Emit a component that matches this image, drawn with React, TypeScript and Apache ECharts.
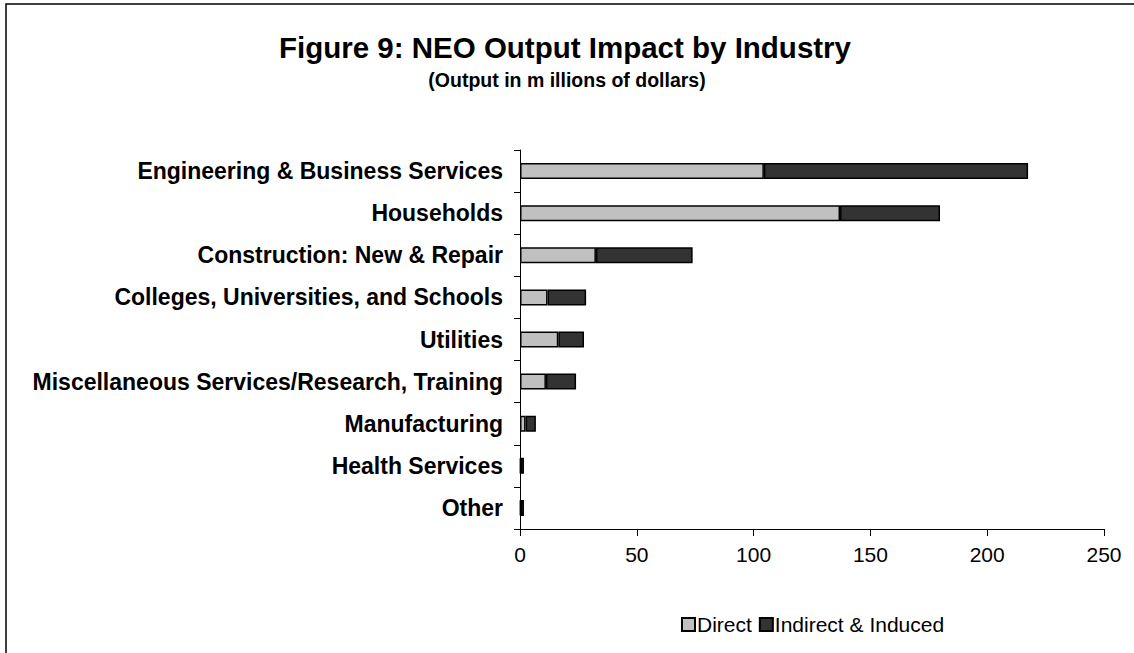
import React, { useEffect, useRef } from "react";
import * as echarts from "echarts";

const categories = [
  "Engineering & Business Services",
  "Households",
  "Construction: New & Repair",
  "Colleges, Universities, and Schools",
  "Utilities",
  "Miscellaneous Services/Research, Training",
  "Manufacturing",
  "Health Services",
  "Other",
];
const directValues = [104.4, 137, 32.5, 11.8, 16.4, 11.1, 2.4, 0.3, 0.3];
const indirectValues = [113.1, 42.8, 41.4, 16.5, 11.0, 12.9, 4.4, 1.4, 1.4];
const xTicks = [0, 50, 100, 150, 200, 250];

const FONT = "'Liberation Sans', Arial, sans-serif";

export default function App() {
  const ref = useRef<HTMLDivElement>(null);
  useEffect(() => {
    document.body.style.margin = "0";
    const chart = echarts.init(ref.current!, undefined, { renderer: "svg" });
    chart.setOption({
      animation: false,
      backgroundColor: "#fff",
      textStyle: { fontFamily: FONT },
      title: [
        {
          text: "Figure 9: NEO Output Impact by Industry",
          left: 560,
          top: 27,
          textAlign: "center",
          textStyle: { fontSize: 29.5, fontWeight: "bold", color: "#000", fontFamily: FONT },
        },
        {
          text: "(Output in m illions of dollars)",
          left: 562,
          top: 65,
          textAlign: "center",
          textStyle: { fontSize: 19.5, fontWeight: "bold", color: "#000", fontFamily: FONT },
        },
      ],
      graphic: [
        {
          type: "rect",
          shape: { x: 6, y: 4, width: 1140, height: 670 },
          style: { fill: "none", stroke: "#000", lineWidth: 1.5 },
          silent: true,
        },
      ],
      legend: {
        left: 681,
        top: 614,
        itemWidth: 13,
        itemHeight: 13,
        itemGap: 7,
        icon: "rect",
        padding: 0,
        textStyle: { fontSize: 21, color: "#000", fontFamily: FONT, padding: [0, 0, 0, -3] },
        data: ["Direct", "Indirect & Induced"],
      },
      grid: { left: 520, right: 30, top: 150, height: 379, containLabel: false },
      xAxis: {
        type: "value",
        min: 0,
        max: 250,
        interval: 50,
        axisLine: { show: true, lineStyle: { color: "#000", width: 1 } },
        axisTick: { show: true, length: 7, lineStyle: { color: "#000" } },
        splitLine: { show: false },
        axisLabel: {
          fontSize: 21,
          color: "#000",
          margin: 15,
          fontFamily: FONT,
          formatter: (v: number) => (xTicks.includes(v) ? String(v) : ""),
        },
      },
      yAxis: {
        type: "category",
        inverse: true,
        data: categories,
        axisLine: { show: true, lineStyle: { color: "#000", width: 1 } },
        axisTick: { show: true, length: 6, lineStyle: { color: "#000" } },
        axisLabel: { fontSize: 23, fontWeight: "bold", color: "#000", margin: 17, fontFamily: FONT },
      },
      series: [
        {
          name: "Direct",
          type: "bar",
          stack: "total",
          barWidth: 16,
          data: directValues,
          itemStyle: { color: "#C0C0C0", borderColor: "#000", borderWidth: 1.5 },
        },
        {
          name: "Indirect & Induced",
          type: "bar",
          stack: "total",
          barWidth: 16,
          data: indirectValues,
          itemStyle: { color: "#333333", borderColor: "#000", borderWidth: 1.5 },
        },
      ],
    });
    return () => chart.dispose();
  }, []);
  return <div ref={ref} style={{ width: 1134, height: 653 }} />;
}
